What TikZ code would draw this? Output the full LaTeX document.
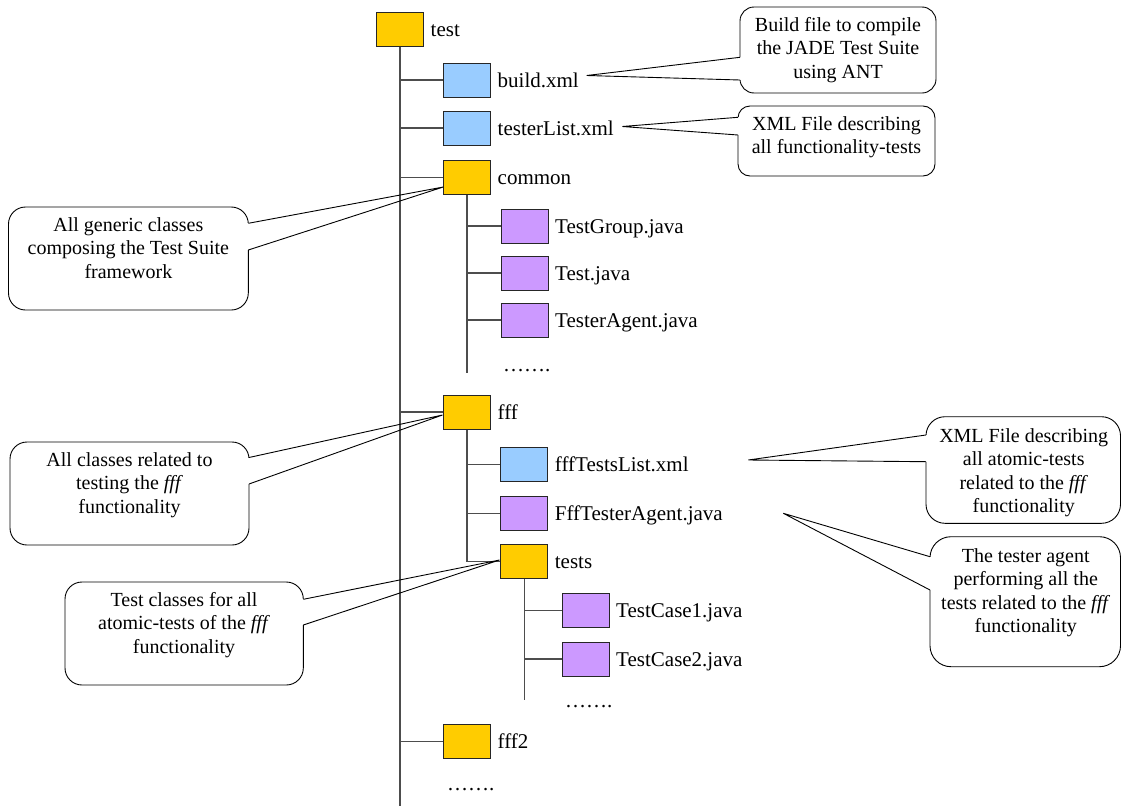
\documentclass[tikz,border=0pt]{standalone}
\usepackage{fontspec}
\setmainfont{LiberationSerif}[Extension=.ttf, UprightFont=*-Regular, ItalicFont=*-Italic, BoldFont=*-Bold, BoldItalicFont=*-BoldItalic]
\usetikzlibrary{calc}
\definecolor{folderc}{HTML}{FFCC00}
\definecolor{xmlc}{HTML}{99CCFF}
\definecolor{javac}{HTML}{CC99FF}
\definecolor{treec}{HTML}{4D4D4D}
\tikzset{
 fbox/.style={draw=black!85, line width=1pt, minimum width=47pt, minimum height=34pt, inner sep=0pt},
 folder/.style={fbox, fill=folderc},
 xmlfile/.style={fbox, fill=xmlc},
 javafile/.style={fbox, fill=javac},
 lbl/.style={anchor=base west, inner sep=0pt, font=\fontsize{21}{25}\selectfont},
 tree/.style={draw=treec, line width=1.3pt},
 bubble/.style={draw=black, line width=0.9pt, fill=white},
 erase/.style={draw=white, line width=2.6pt},
 ctext/.style={anchor=north, inner sep=0pt, align=center, font=\fontsize{20}{23.5}\selectfont},
 tail/.style={draw=black, line width=0.9pt},
}
\begin{document}
\begin{tikzpicture}[x=1pt,y=-1pt]
\useasboundingbox (0,0) rectangle (1122,806);

% ---------- callout bubbles ----------
\draw[bubble, rounded corners=14pt] (740,7) rectangle (936,93);
\draw[bubble, rounded corners=12pt] (738,106) rectangle (935,176);
\draw[bubble, rounded corners=17pt] (8.5,207) rectangle (248.3,310);
\draw[bubble, rounded corners=17pt] (10,442) rectangle (249,545);
\draw[bubble, rounded corners=19pt] (926,416.7) rectangle (1120.5,523.3);
\draw[bubble, rounded corners=21pt] (930,536.7) rectangle (1120.5,666.7);
\draw[bubble, rounded corners=17pt] (65,582) rectangle (303.3,685);

% tail base points
\coordinate (c1a) at (740,57.3);  \coordinate (c1b) at (740,80);
\coordinate (c2a) at (738,117.3); \coordinate (c2b) at (738,135);
\coordinate (c3a) at (248.3,223.3); \coordinate (c3b) at (248.3,250);
\coordinate (c4a) at (249,457.5); \coordinate (c4b) at (249,484);
\coordinate (c5a) at (926,435);   \coordinate (c5b) at (926,461.7);
\coordinate (c6a) at (930,556.7); \coordinate (c6b) at (930,590);
\coordinate (c7a) at (303.3,599.3); \coordinate (c7b) at (303.3,625);
\foreach \c in {c1,c2,c3,c4,c5,c6,c7}{\draw[erase] (\c a) -- (\c b);}

% callout texts
\node[ctext] (t1) at (838,17) {Build file to compile\\the JADE Test Suite\\using ANT};
\node[ctext] (t2) at (836.5,116) {XML File describing\\all functionality-tests};
\node[ctext] (t3) at (128.4,217) {All generic classes\\composing the Test Suite\\framework};
\node[ctext] (t4) at (129.5,452) {All classes related to\\testing the \textit{fff}\\functionality};
\node[ctext] (t5) at (1023.7,428) {XML File describing\\all atomic-tests\\related to the \textit{fff}\\functionality};
\node[ctext] (t6) at (1025.7,548) {The tester agent\\performing all the\\tests related to the \textit{fff}\\functionality};
\node[ctext] (t7) at (184,592) {Test classes for all\\atomic-tests of the \textit{fff}\\functionality};

% ---------- tree boxes ----------
\node[folder]   (test)     at (400,29) {};
\node[xmlfile]  (build)    at (467,80) {};
\node[xmlfile]  (tlist)    at (467,128) {};
\node[folder]   (common)   at (467,177.5) {};
\node[javafile] (tgroup)   at (524.5,226) {};
\node[javafile] (tjava)    at (524.5,273) {};
\node[javafile] (tagent)   at (524.5,320) {};
\node[folder]   (fff)      at (467,412) {};
\node[xmlfile]  (ftlist)   at (524.2,464.7) {};
\node[javafile] (fagent)   at (524.2,513.3) {};
\node[folder]   (tests)    at (524.2,561.7) {};
\node[javafile] (tc1)      at (585.5,610.7) {};
\node[javafile] (tc2)      at (585.5,659) {};
\node[folder]   (fff2)     at (467,741.3) {};

% ---------- tree lines ----------
\coordinate (trunkend) at (400,806);
\coordinate (commonend) at (467,373);
\coordinate (testsend) at (524.2,700);
\draw[tree] (test.south) -- (trunkend);
\foreach \n in {build,tlist,common,fff,fff2}{\draw[tree] (test.south |- \n.west) -- (\n.west);}
\draw[tree] (common.south) -- (commonend);
\foreach \n in {tgroup,tjava,tagent}{\draw[tree] (common.south |- \n.west) -- (\n.west);}
\draw[tree] (fff.south) |- (tests.west);
\foreach \n in {ftlist,fagent}{\draw[tree] (fff.south |- \n.west) -- (\n.west);}
\draw[tree] (tests.south) -- (testsend);
\foreach \n in {tc1,tc2}{\draw[tree] (tests.south |- \n.west) -- (\n.west);}

% ---------- labels ----------
\node[lbl] (ltest)   at ($(test.east)+(6.5,7)$) {test};
\node[lbl] (lbuild)  at ($(build.east)+(6.5,7)$) {build.xml};
\node[lbl] (ltlist)  at ($(tlist.east)+(6.5,7)$) {testerList.xml};
\node[lbl] (lcommon) at ($(common.east)+(6.5,7)$) {common};
\node[lbl] (ltgroup) at ($(tgroup.east)+(6.5,7)$) {TestGroup.java};
\node[lbl] (ltjava)  at ($(tjava.east)+(6.5,7)$) {Test.java};
\node[lbl] (ltagent) at ($(tagent.east)+(6.5,7)$) {TesterAgent.java};
\node[lbl] (ldots1)  at (503,371) {…….};
\node[lbl] (lfff)    at ($(fff.east)+(6.5,7)$) {fff};
\node[lbl] (lftlist) at ($(ftlist.east)+(6.5,7)$) {fffTestsList.xml};
\node[lbl] (lfagent) at ($(fagent.east)+(6.5,7)$) {FffTesterAgent.java};
\node[lbl] (ltests)  at ($(tests.east)+(6.5,7)$) {tests};
\node[lbl] (ltc1)    at ($(tc1.east)+(6.5,7)$) {TestCase1.java};
\node[lbl] (ltc2)    at ($(tc2.east)+(6.5,7)$) {TestCase2.java};
\node[lbl] (ldots2)  at (565,707) {…….};
\node[lbl] (lfff2)   at ($(fff2.east)+(6.5,7)$) {fff2};
\node[lbl] (ldots3)  at (447,790) {…….};

% ---------- callout tails ----------
\coordinate (c1t) at (586.7,75.5);
\coordinate (c2t) at (622.3,126.5);
\coordinate (c3t) at (443.3,187);
\coordinate (c4t) at (442.5,415);
\coordinate (c5t) at (748.3,460);
\coordinate (c6t) at (783.3,513.3);
\coordinate (c7t) at (499.5,560);
\foreach \c in {c1,c2,c3,c4,c5,c6,c7}{\draw[tail, line join=miter] (\c a) -- (\c t) -- (\c b);}
\end{tikzpicture}
\end{document}
